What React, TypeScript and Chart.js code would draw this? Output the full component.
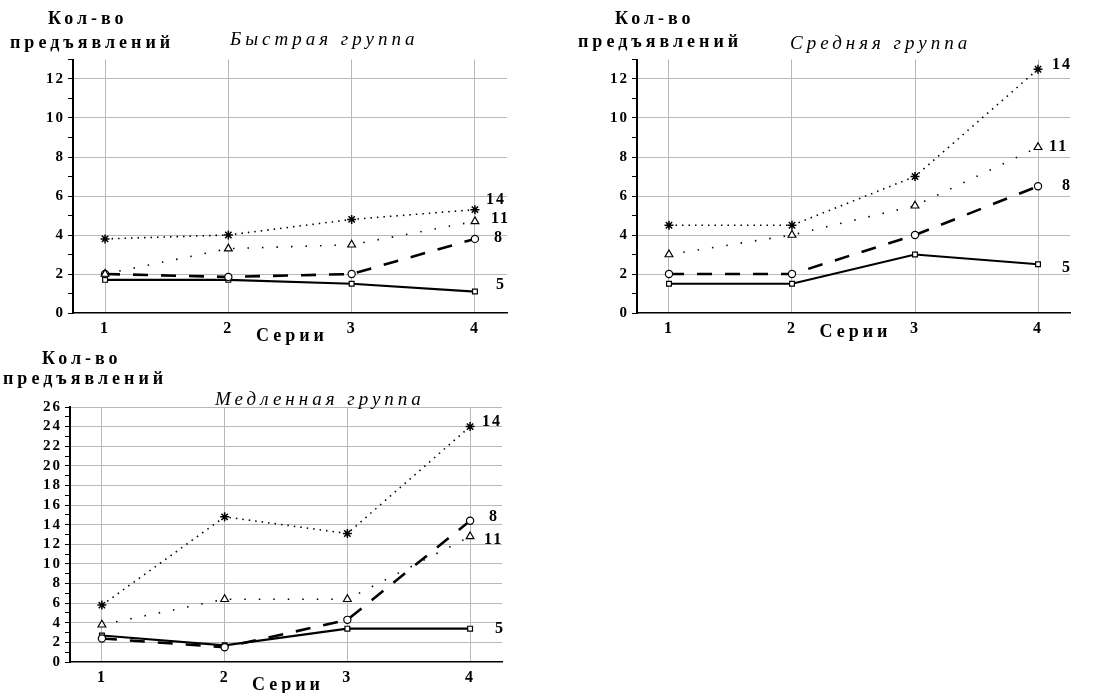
import React, { useEffect, useRef } from "react";
import { Chart, registerables } from "chart.js";

Chart.register(...registerables);

// ---- Data ----
const series = [1, 2, 3, 4];
const seriesNames = ["14", "11", "8", "5"];
const xAxisTitle = "Серии";
const yTitle1 = "Кол-во";
const yTitle2 = "предъявлений";

const fastTitle = "Быстрая группа";
const fast14 = [3.8, 4.0, 4.8, 5.3];
const fast11 = [2.0, 3.3, 3.5, 4.7];
const fast8 = [2.0, 1.85, 2.0, 3.8];
const fast5 = [1.7, 1.7, 1.5, 1.1];

const midTitle = "Средняя группа";
const mid14 = [4.5, 4.5, 7.0, 12.5];
const mid11 = [3.0, 4.0, 5.5, 8.5];
const mid8 = [2.0, 2.0, 4.0, 6.5];
const mid5 = [1.5, 1.5, 3.0, 2.5];

const slowTitle = "Медленная группа";
const slow14 = [5.8, 14.8, 13.1, 24.0];
const slow11 = [3.8, 6.4, 6.4, 12.8];
const slow8 = [2.4, 1.5, 4.3, 14.4];
const slow5 = [2.7, 1.7, 3.4, 3.4];

const SERIF = '"Liberation Serif", "DejaVu Serif", serif';

type PanelProps = {
  left: number;
  top: number;
  width: number;
  height: number;
  area: { l: number; r: number; t: number; b: number };
  yMax: number;
  values: number[][];
  labelOffsets: [number, number][];
  serieY: number;
};

const styles = [
  { dash: [1.5, 5], width: 1.6, point: "star", radius: 4.5, pbw: 1.5 },
  { dash: [1.5, 13], width: 1.6, point: "triangle", radius: 4.5, pbw: 1.2 },
  { dash: [15, 13], width: 2.6, point: "circle", radius: 3.6, pbw: 1.2 },
  { dash: [], width: 2.2, point: "rect", radius: 3.4, pbw: 1.2 },
];

function Panel(p: PanelProps) {
  const ref = useRef<HTMLCanvasElement | null>(null);
  useEffect(() => {
    if (!ref.current) return;
    const labelPlugin = {
      id: "endLabels",
      beforeDraw(chart: any) {
        try {
          (chart.ctx as any).letterSpacing = "2px";
        } catch (e) {}
      },
      afterDatasetsDraw(chart: any) {
        const ctx = chart.ctx;
        ctx.save();
        ctx.fillStyle = "#000";
        ctx.font = `bold 16px ${SERIF}`;
        try {
          (ctx as any).letterSpacing = "2px";
        } catch (e) {}
        ctx.textAlign = "left";
        ctx.textBaseline = "middle";
        chart.data.datasets.forEach((ds: any, i: number) => {
          const meta = chart.getDatasetMeta(i);
          const pt = meta.data[meta.data.length - 1];
          const [dx, dy] = p.labelOffsets[i];
          ctx.fillText(ds.label, pt.x + dx, pt.y + dy);
        });
        const ca = chart.chartArea;
        ctx.font = `bold 18px ${SERIF}`;
        try {
          (ctx as any).letterSpacing = "4px";
        } catch (e) {}
        ctx.textAlign = "center";
        ctx.fillText(xAxisTitle, (ca.left + ca.right) / 2 + 2, p.serieY);
        ctx.restore();
      },
      afterDraw(chart: any) {
        try {
          (chart.ctx as any).letterSpacing = "0px";
        } catch (e) {}
      },
    };
    const chart = new Chart(ref.current, {
      type: "line",
      data: {
        datasets: p.values.map((vals, i) => ({
          label: seriesNames[i],
          data: series.map((x, j) => ({ x, y: vals[j] })),
          borderColor: "#000",
          borderWidth: styles[i].width,
          borderDash: styles[i].dash,
          pointStyle: styles[i].point as any,
          pointRadius: styles[i].radius,
          pointBorderWidth: styles[i].pbw,
          pointBackgroundColor: "#fff",
          pointBorderColor: "#000",
          tension: 0,
          fill: false,
        })),
      },
      options: {
        animation: false,
        responsive: false,
        events: [],
        layout: {
          padding: { left: 0, top: p.area.t, right: p.width - p.area.r, bottom: 0 },
        },
        plugins: { legend: { display: false }, title: { display: false }, tooltip: { enabled: false } },
        scales: {
          x: {
            type: "linear",
            min: 0.74,
            max: 4.26,
            afterFit: (s: any) => {
              s.height = p.height - p.area.b;
            },
            afterBuildTicks: (s: any) => {
              s.ticks = series.map((v) => ({ value: v }));
            },
            ticks: {
              color: "#000",
              font: { family: SERIF, size: 16, weight: "bold" },
              padding: 6,
              maxRotation: 0,
              autoSkip: false,
              callback: (v: any) => String(v),
            },
            grid: { color: "#b8b8b8", lineWidth: 1, drawTicks: false },
            border: { color: "#000", width: 1.5 },
          },
          y: {
            type: "linear",
            min: 0,
            max: p.yMax,
            afterFit: (s: any) => {
              s.width = p.area.l;
            },
            afterBuildTicks: (s: any) => {
              const t = [];
              for (let v = 0; v <= Math.floor(p.yMax); v++) t.push({ value: v });
              s.ticks = t;
            },
            ticks: {
              color: "#000",
              font: { family: SERIF, size: 15, weight: "bold" },
              padding: 3,
              autoSkip: false,
              callback: (v: any) => (v % 2 === 0 ? String(v) : ""),
            },
            grid: {
              color: (c: any) => (c.tick && c.tick.value % 2 === 0 && c.tick.value !== 0 ? "#b8b8b8" : "rgba(0,0,0,0)"),
              tickColor: "#000",
              tickLength: 5,
              lineWidth: 1,
            },
            border: { color: "#000", width: 2 },
          },
        },
      },
      plugins: [labelPlugin],
    } as any);
    return () => chart.destroy();
  }, []);
  return (
    <canvas
      ref={ref}
      width={p.width}
      height={p.height}
      style={{ position: "absolute", left: p.left, top: p.top, width: p.width, height: p.height }}
    />
  );
}

function Txt(props: { x: number; cy: number; text: string; italic?: boolean; size: number; ls: number; bold?: boolean }) {
  return (
    <div
      style={{
        position: "absolute",
        left: props.x,
        top: props.cy - 12,
        height: 24,
        lineHeight: "24px",
        fontFamily: SERIF,
        fontSize: props.size,
        fontWeight: props.bold ? "bold" : "normal",
        fontStyle: props.italic ? "italic" : "normal",
        letterSpacing: props.ls,
        whiteSpace: "nowrap",
        color: "#000",
      }}
    >
      {props.text}
    </div>
  );
}

export default function App() {
  return (
    <div style={{ position: "absolute", left: 0, top: 0, width: 1118, height: 693, background: "#fff", overflow: "hidden" }}>
      <Panel
        left={0}
        top={0}
        width={560}
        height={345}
        area={{ l: 73, r: 507, t: 59.5, b: 313 }}
        yMax={13}
        values={[fast14, fast11, fast8, fast5]}
        labelOffsets={[[11, -10], [16, -2], [19, -1], [21, -7]]}
        serieY={336}
      />
      <Panel
        left={560}
        top={0}
        width={558}
        height={345}
        area={{ l: 77, r: 510, t: 59.5, b: 313 }}
        yMax={13}
        values={[mid14, mid11, mid8, mid5]}
        labelOffsets={[[14, -4], [11, 0], [24, 0], [24, 4]]}
        serieY={332}
      />
      <Panel
        left={0}
        top={340}
        width={560}
        height={353}
        area={{ l: 70, r: 502, t: 67, b: 322 }}
        yMax={26}
        values={[slow14, slow11, slow8, slow5]}
        labelOffsets={[[12, -5], [14, 3], [19, -4], [25, 0]]}
        serieY={345}
      />
      <Txt x={48} cy={18} text={yTitle1} size={18} ls={4} bold />
      <Txt x={10} cy={42} text={yTitle2} size={18} ls={4} bold />
      <Txt x={230} cy={39} text={fastTitle} size={19} ls={4} italic />
      <Txt x={615} cy={18} text={yTitle1} size={18} ls={4} bold />
      <Txt x={578} cy={41} text={yTitle2} size={18} ls={4} bold />
      <Txt x={790} cy={43} text={midTitle} size={19} ls={4} italic />
      <Txt x={42} cy={358} text={yTitle1} size={18} ls={4} bold />
      <Txt x={3} cy={378} text={yTitle2} size={18} ls={4} bold />
      <Txt x={215} cy={399} text={slowTitle} size={19} ls={4} italic />
    </div>
  );
}
